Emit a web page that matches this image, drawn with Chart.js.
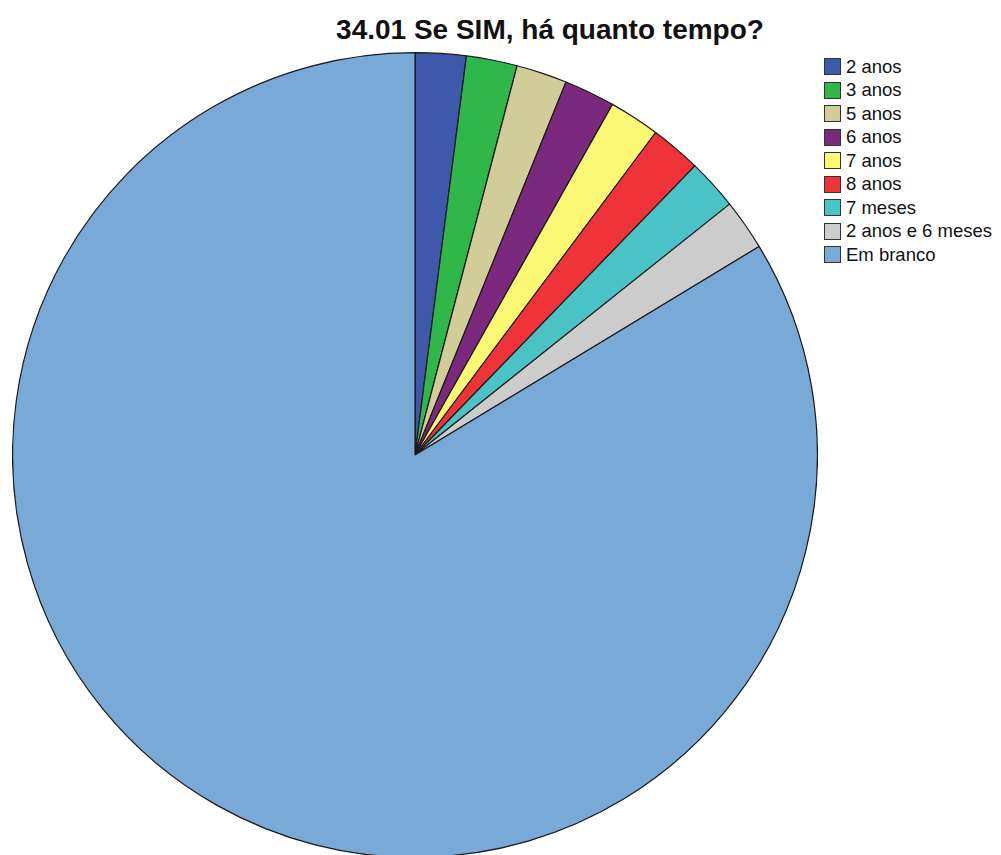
<!DOCTYPE html>
<html>
<head>
<meta charset="utf-8">
<script src="https://cdn.jsdelivr.net/npm/chart.js@4"></script>
<style>
  html, body { margin: 0; padding: 0; background: #fff; overflow: hidden; width: 1001px; height: 855px; }
  body { position: relative; font-family: "Liberation Sans", Arial, sans-serif; }
  #title { position: absolute; left: 550px; top: 16px; transform: translateX(-50%);
           font-size: 28px; line-height: 28px; font-weight: bold; color: #111; white-space: nowrap; }
  #pieBox { position: absolute; left: 12px; top: 52px; width: 806px; height: 806px; }
  #legend { position: absolute; left: 824px; top: 55px; }
  .row { height: 23.5px; display: flex; align-items: center; font-size: 18.5px; color: #111; white-space: nowrap; }
  .sw { width: 15px; height: 15px; border: 1.5px solid #333; margin-right: 5px; flex: none; }
</style>
</head>
<body>
<div id="title">34.01 Se SIM, há quanto tempo?</div>
<div id="pieBox"><canvas id="chart"></canvas></div>
<div id="legend"></div>
<script>
// answers to 34.01, counts per category (8 single answers, rest blank)
const categories = ['2 anos', '3 anos', '5 anos', '6 anos', '7 anos', '8 anos', '7 meses', '2 anos e 6 meses', 'Em branco'];
const counts = [1, 1, 1, 1, 1, 1, 1, 1, 41];
const colors = ['#3e58ac', '#2fb74a', '#d2cc98', '#7a297f', '#fbf874', '#ef3338', '#49c3c6', '#cccccc', '#79a9d6'];

const legend = document.getElementById('legend');
categories.forEach((c, i) => {
  const row = document.createElement('div');
  row.className = 'row';
  row.innerHTML = `<span class="sw" style="background:${colors[i]}"></span><span>${c}</span>`;
  legend.appendChild(row);
});

new Chart(document.getElementById('chart'), {
  type: 'pie',
  data: {
    labels: categories,
    datasets: [{
      data: counts,
      backgroundColor: colors,
      borderColor: '#1a1a1a',
      borderWidth: 1.2,
    }]
  },
  options: {
    responsive: true,
    maintainAspectRatio: false,
    animation: false,
    layout: { padding: 0 },
    plugins: { legend: { display: false }, tooltip: { enabled: false }, title: { display: false } },
  }
});
</script>
</body>
</html>
